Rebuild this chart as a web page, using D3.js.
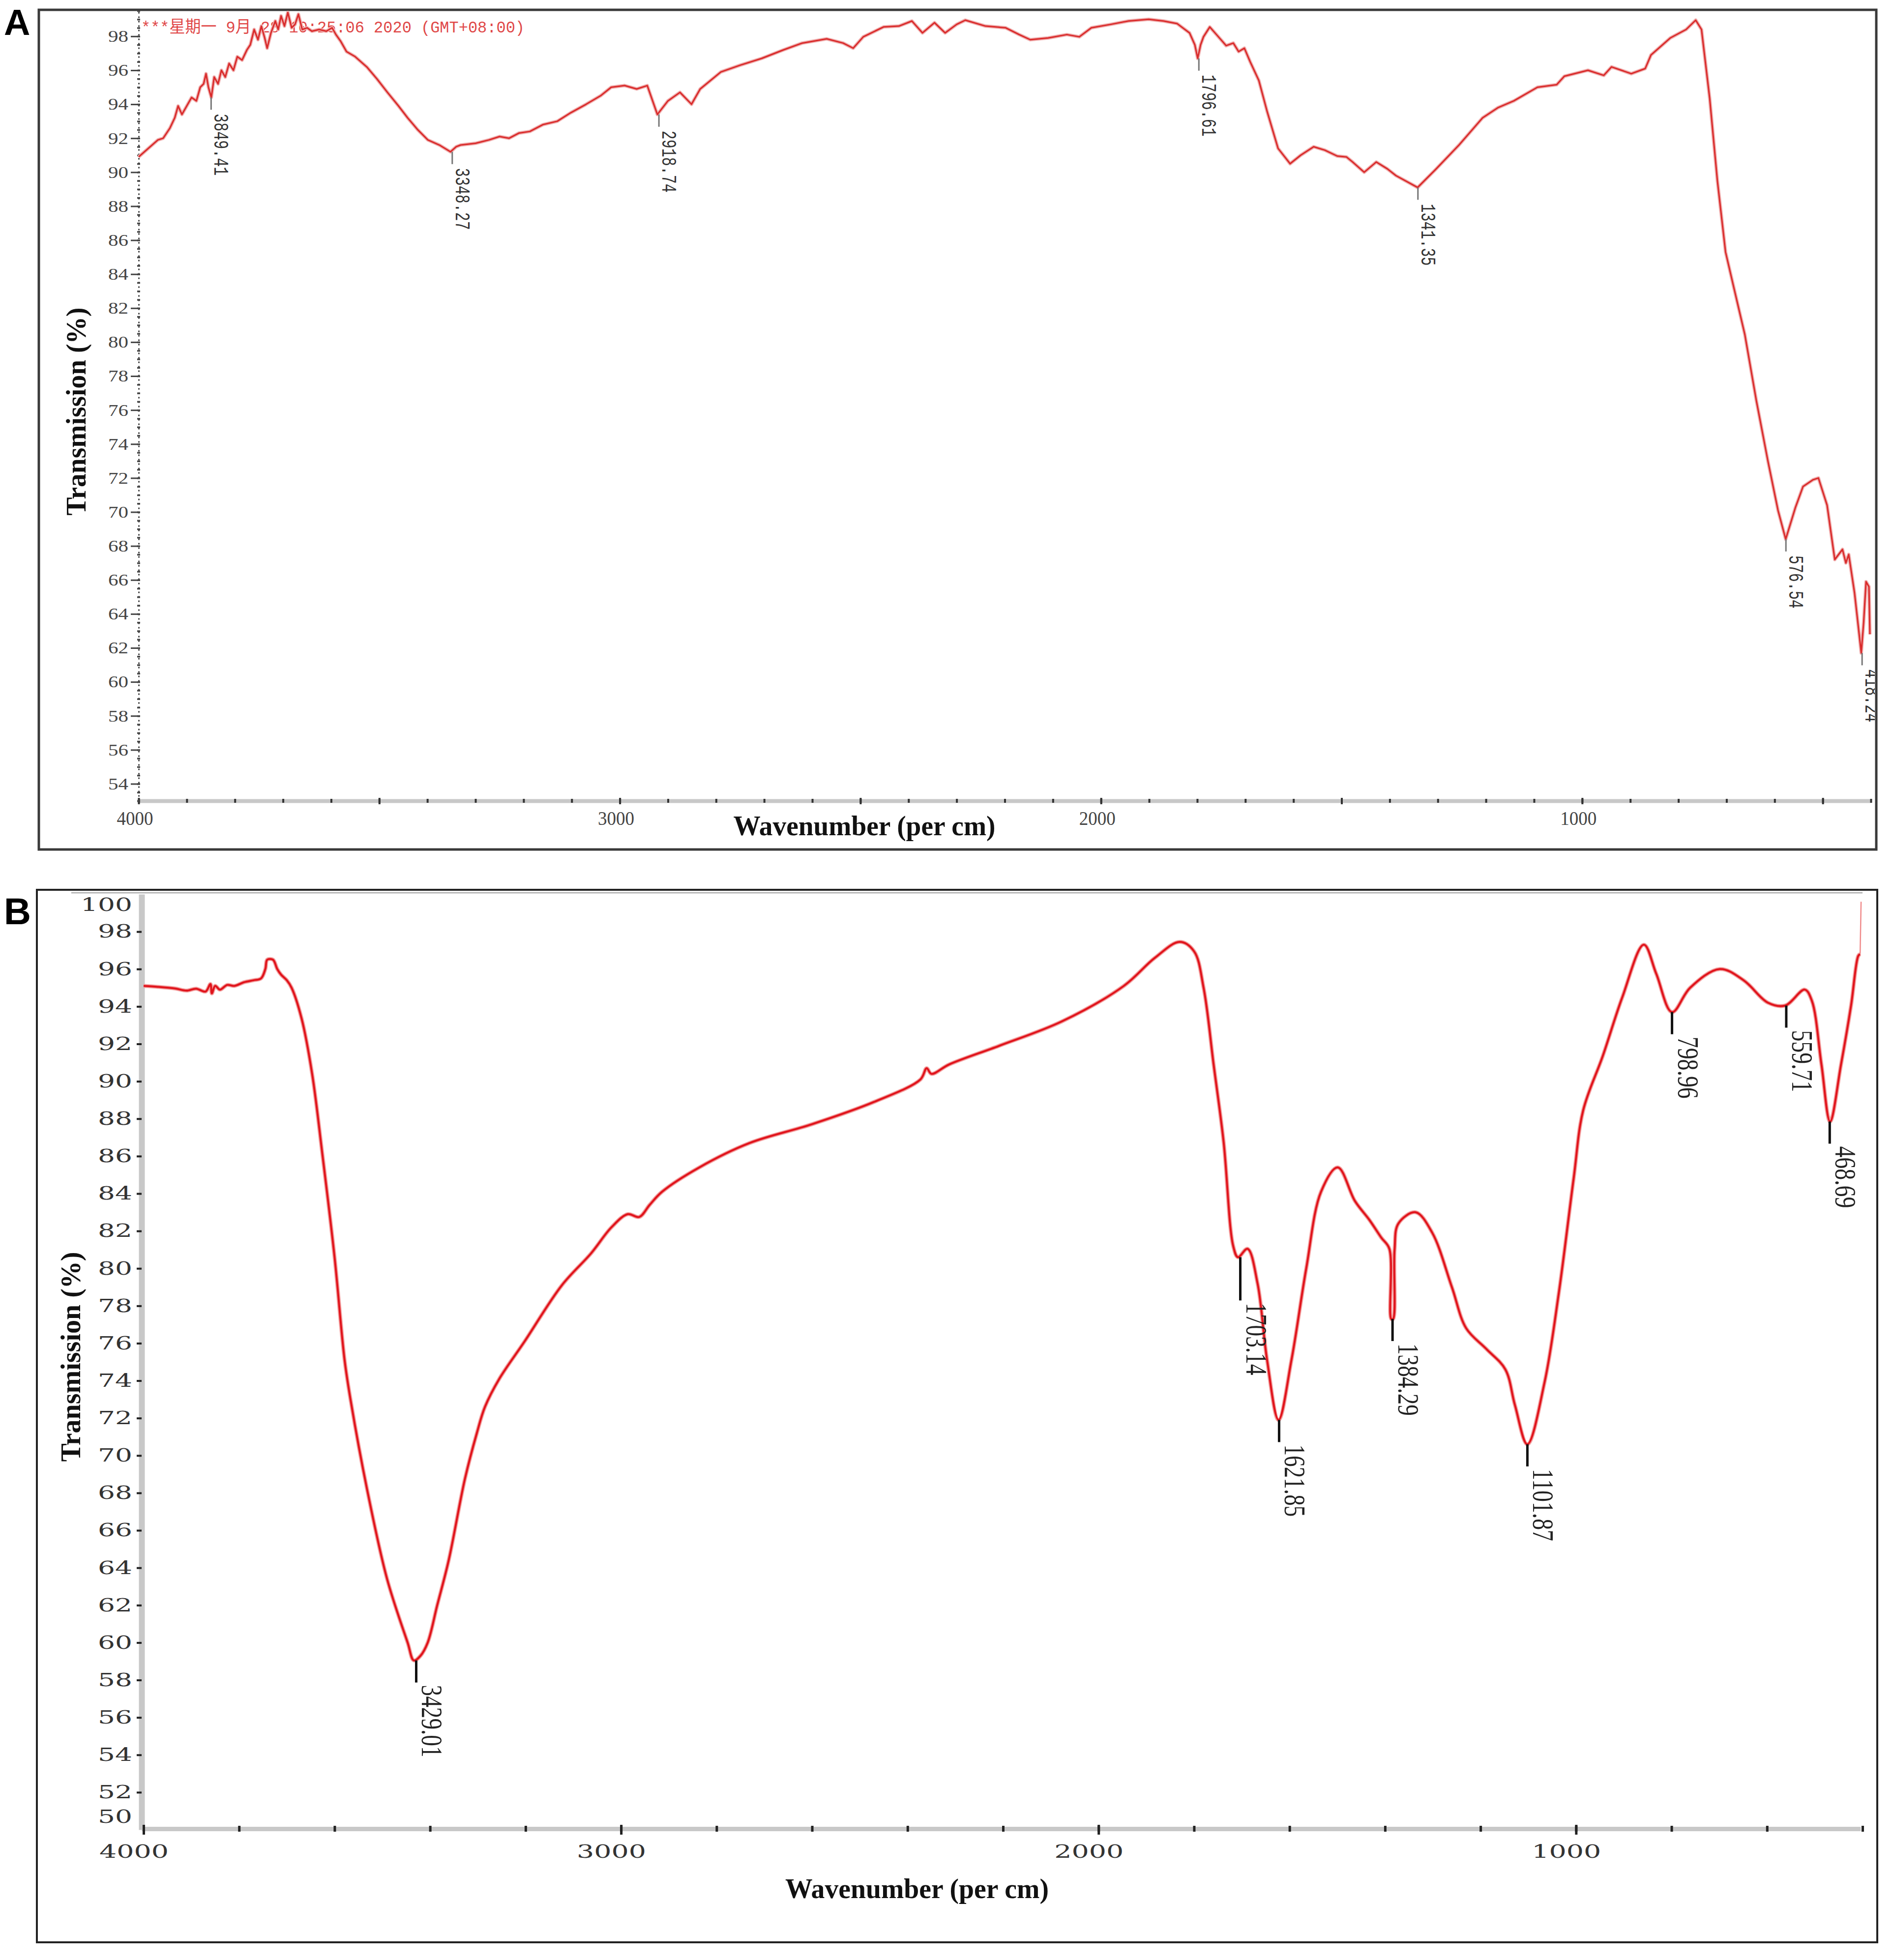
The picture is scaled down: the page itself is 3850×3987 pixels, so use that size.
<!DOCTYPE html>
<html><head><meta charset="utf-8">
<script src="https://cdn.jsdelivr.net/npm/d3@7"></script>
<style>body{margin:0;background:#fff}svg{display:block}</style>
</head><body>
<svg id="c" width="3850" height="3987"></svg>
<script>
// ---------- DATA ----------
const spectrumA = [
[4000,90.9],[3980,91.4],[3960,91.9],[3949,92.0],[3935,92.6],[3925,93.2],[3918,93.9],[3910,93.4],[3900,93.9],
[3890,94.4],[3880,94.2],[3872,95.0],[3865,95.2],[3860,95.8],[3855,95.0],[3849,94.4],[3843,95.6],[3835,95.2],
[3828,96.0],[3820,95.6],[3812,96.4],[3803,96.0],[3795,96.8],[3785,96.6],[3775,97.2],[3768,97.5],[3760,98.4],
[3752,97.8],[3745,98.6],[3738,97.9],[3733,97.3],[3725,98.2],[3716,98.9],[3710,98.4],[3704,99.2],[3697,98.6],
[3690,99.4],[3682,98.5],[3675,98.7],[3668,99.3],[3660,98.4],[3650,98.5],[3640,98.3],[3625,98.4],[3610,98.3],
[3598,98.5],[3590,98.1],[3580,97.7],[3568,97.1],[3550,96.8],[3526,96.2],[3505,95.5],[3483,94.7],[3460,93.9],
[3441,93.2],[3420,92.5],[3399,91.9],[3375,91.6],[3352,91.2],[3340,91.5],[3331,91.6],[3300,91.7],[3272,91.9],
[3250,92.1],[3230,92.0],[3210,92.3],[3187,92.4],[3160,92.8],[3130,93.0],[3102,93.5],[3070,94.0],[3040,94.5],
[3018,95.0],[2990,95.1],[2965,94.9],[2943,95.1],[2922,93.4],[2900,94.2],[2875,94.7],[2851,94.0],[2833,94.9],
[2790,95.9],[2750,96.3],[2705,96.7],[2660,97.2],[2621,97.6],[2570,97.85],[2536,97.6],[2515,97.3],[2494,97.97],
[2452,98.55],[2420,98.6],[2393,98.9],[2371,98.2],[2346,98.8],[2324,98.2],[2300,98.7],[2282,98.95],[2240,98.6],
[2198,98.5],[2170,98.1],[2147,97.8],[2110,97.9],[2071,98.1],[2045,97.97],[2020,98.5],[1980,98.7],[1943,98.9],
[1901,99.0],[1870,98.9],[1842,98.75],[1816,98.2],[1805,97.5],[1799,96.7],[1793,97.5],[1787,97.97],[1774,98.55],
[1760,98.1],[1740,97.45],[1725,97.6],[1714,97.1],[1702,97.3],[1690,96.5],[1672,95.4],[1655,93.6],[1632,91.4],
[1607,90.5],[1585,91.0],[1558,91.5],[1535,91.3],[1509,90.95],[1490,90.9],[1477,90.6],[1453,90.0],[1428,90.6],
[1405,90.2],[1387,89.8],[1342,89.1],[1305,90.15],[1256,91.6],[1207,93.2],[1175,93.8],[1142,94.2],[1093,95.0],
[1053,95.15],[1037,95.65],[988,96.0],[955,95.7],[939,96.2],[898,95.8],[869,96.1],[857,96.9],[817,97.9],
[784,98.4],[764,98.95],[752,98.4],[735,94.35],[719,89.5],[702,85.3],[686,83.35],[662,80.45],[638,76.55],
[614,73.0],[593,70.1],[577,68.4],[557,70.25],[541,71.5],[520,71.9],[509,72.0],[491,70.4],[475,67.2],
[459,67.8],[452,67.0],[446,67.5],[434,65.25],[420,61.7],[415,63.5],[410,65.9],[404,65.6],[402,62.8]
];
const spectrumB = [
[4000,95.1],[3970,95.05],[3934,94.96],[3910,94.85],[3890,94.95],[3870,94.8],[3860,95.2],[3857,94.7],[3850,95.1],
[3840,94.9],[3825,95.15],[3810,95.1],[3789,95.3],[3770,95.4],[3754,95.5],[3745,96.0],[3741,96.5],[3729,96.5],
[3720,96.0],[3712,95.7],[3700,95.4],[3690,95.0],[3669,93.35],[3647,90.4],[3626,86.2],[3600,80.6],[3579,75.1],
[3566,72.9],[3532,68.2],[3490,63.4],[3447,60.0],[3434,59.05],[3420,59.3],[3405,60.0],[3385,62.0],[3361,64.4],
[3327,68.75],[3302,71.2],[3285,72.6],[3255,74.1],[3202,76.1],[3124,79.1],[3063,80.8],[3020,82.2],[2986,82.9],
[2962,82.75],[2940,83.4],[2914,84.1],[2836,85.4],[2731,86.7],[2601,87.7],[2470,88.9],[2373,90.1],[2360,90.7],
[2350,90.4],[2313,90.9],[2208,91.9],[2077,93.2],[1947,95.1],[1882,96.6],[1830,97.45],[1800,96.95],[1780,95.0],
[1759,90.9],[1738,86.75],[1718,81.2],[1708,80.6],[1688,81.05],[1667,79.2],[1647,75.1],[1623,71.9],[1596,75.1],
[1565,80.0],[1534,84.1],[1499,85.4],[1463,83.6],[1433,82.6],[1408,81.65],[1391,81.05],[1387,77.3],[1383,77.3],
[1380,81.0],[1372,82.4],[1336,83.0],[1301,81.9],[1260,79.0],[1230,76.8],[1188,75.7],[1148,74.6],[1128,72.7],
[1102,70.6],[1066,73.9],[1036,78.7],[1005,84.8],[985,88.45],[944,91.35],[903,94.5],[858,97.3],[832,95.75],
[799,93.7],[761,95.0],[699,96.0],[649,95.4],[598,94.2],[562,94.05],[521,94.9],[506,94.3],[486,90.9],
[468,87.85],[445,90.9],[424,94.05],[409,96.7],[405,96.8]
];
const tailB = [[405,96.8],[403,99.6]];
const peaksA = [
{label:"3849.41",wn:3849.41,t:94.4},{label:"3348.27",wn:3348.27,t:91.2},{label:"2918.74",wn:2918.74,t:93.4},
{label:"1796.61",wn:1796.61,t:96.7},{label:"1341.35",wn:1341.35,t:89.1},{label:"576.54",wn:576.54,t:68.4},
{label:"418.24",wn:418.24,t:61.7}
];
const peaksB = [
{label:"3429.01",wn:3429.01,t:59.05},{label:"1703.14",wn:1703.14,t:80.6},{label:"1621.85",wn:1621.85,t:71.9},
{label:"1384.29",wn:1384.29,t:77.3},{label:"1101.87",wn:1101.87,t:70.6},{label:"798.96",wn:798.96,t:93.7},
{label:"559.71",wn:559.71,t:94.05},{label:"468.69",wn:468.69,t:87.85}
];
const yTicksA = [54,56,58,60,62,64,66,68,70,72,74,76,78,80,82,84,86,88,90,92,94,96,98];
const xLabelsA = [4000,3000,2000,1000];
const yTicksB = [50,52,54,56,58,60,62,64,66,68,70,72,74,76,78,80,82,84,86,88,90,92,94,96,98,100];
const xLabelsB = [4000,3000,2000,1000];
const stampA = "***星期一 9月 28 10:25:06 2020 (GMT+08:00)";
const yTitle = "Transmission (%)";
const xTitle = "Wavenumber (per cm)";

// ---------- DRAW ----------
const svg = d3.select("#c");
svg.append("rect").attr("width",3850).attr("height",3987).attr("fill","#fff");

// ===== Panel A =====
const xA = d3.scaleLinear().domain([4000,400]).range([282,3805]);
const yA = d3.scaleLinear().domain([53,99.5]).range([1629,22]);
const gA = svg.append("g");
svg.append("defs").append("clipPath").attr("id","clipA").append("rect")
  .attr("x",82).attr("y",22).attr("width",3731).attr("height",1703);

gA.append("text").attr("x",8).attr("y",71).text("A")
  .attr("font-family","Liberation Sans, Arial, sans-serif").attr("font-weight","bold").attr("font-size",74).attr("fill","#000");
gA.append("rect").attr("x",79).attr("y",20).attr("width",3737).attr("height",1708)
  .attr("fill","none").attr("stroke","#3a3a3a").attr("stroke-width",5);

gA.append("text").attr("x",287).attr("y",66).text(stampA)
  .attr("font-family","Liberation Mono, Noto Sans CJK SC, monospace").attr("font-size",34)
  .attr("fill","#e04848").attr("textLength",780).attr("lengthAdjust","spacingAndGlyphs");

// x axis bar
const y0A = yA.range()[0];
const xbarA = gA.append("g").attr("transform",`translate(0,${y0A})`)
  .call(d3.axisBottom(xA).tickValues([]).tickSizeOuter(0));
xbarA.select(".domain").attr("stroke","#c8c8c8").attr("stroke-width",8);
gA.append("g").attr("transform",`translate(0,${y0A-4})`)
  .call(d3.axisBottom(xA).tickValues(d3.range(4000,399,-100)).tickSize(8).tickFormat(""))
  .call(g=>{g.select(".domain").remove();g.selectAll("line").attr("stroke","#333").attr("stroke-width",4);});
gA.append("g").attr("transform",`translate(0,${y0A-6})`)
  .call(d3.axisBottom(xA).tickValues(d3.range(4000,399,-500)).tickSize(13).tickFormat(""))
  .call(g=>{g.select(".domain").remove();g.selectAll("line").attr("stroke","#333").attr("stroke-width",4);});
gA.append("g").attr("transform",`translate(0,${y0A})`)
  .call(d3.axisBottom(xA).tickValues(xLabelsA).tickSize(0).tickPadding(21).tickFormat(d3.format("d")))
  .call(g=>{g.select(".domain").remove();
    g.selectAll("text").attr("font-family","Liberation Serif, serif").attr("font-size",40).attr("fill","#444")
     .attr("dx",-8).attr("textLength",74).attr("lengthAdjust","spacingAndGlyphs");});

// y axis (dotted)
const yaxA = gA.append("g").attr("transform",`translate(${xA.range()[0]},0)`)
  .call(d3.axisLeft(yA).tickValues(yTicksA).tickSize(16).tickPadding(5).tickSizeOuter(0));
yaxA.select(".domain").attr("stroke","#444").attr("stroke-width",3).attr("stroke-dasharray","3,6");
yaxA.selectAll(".tick line").attr("stroke","#444").attr("stroke-width",3);
yaxA.selectAll("text").attr("font-family","Liberation Serif, serif").attr("font-size",34).attr("fill","#444")
  .attr("textLength",41).attr("lengthAdjust","spacingAndGlyphs");
gA.append("g").attr("transform",`translate(${xA.range()[0]+3},0)`)
  .call(d3.axisLeft(yA).tickValues(d3.range(53,99.6,0.5)).tickSize(6).tickFormat(""))
  .call(g=>{g.select(".domain").remove();g.selectAll("line").attr("stroke","#444").attr("stroke-width",3.5);});

// titles
gA.append("text").attr("transform","translate(174,837) rotate(-90)").attr("text-anchor","middle").text(yTitle)
  .attr("font-family","Liberation Serif, Times New Roman, serif").attr("font-weight","bold").attr("font-size",58)
  .attr("fill","#111").attr("textLength",423).attr("lengthAdjust","spacingAndGlyphs");
gA.append("text").attr("x",1758).attr("y",1699).attr("text-anchor","middle").text(xTitle)
  .attr("font-family","Liberation Serif, Times New Roman, serif").attr("font-weight","bold").attr("font-size",56)
  .attr("fill","#111").attr("textLength",533).attr("lengthAdjust","spacingAndGlyphs");

// curve + peaks
const plotA = gA.append("g").attr("clip-path","url(#clipA)");
const lineA = d3.line().x(d=>xA(d[0])).y(d=>yA(d[1]));
plotA.append("path").datum(spectrumA).attr("d",lineA)
  .attr("fill","none").attr("stroke","#f0b0b0").attr("stroke-width",7).attr("stroke-linejoin","round");
plotA.append("path").datum(spectrumA).attr("d",lineA)
  .attr("fill","none").attr("stroke","#d92b2b").attr("stroke-width",3).attr("stroke-linejoin","round");
const pkA = plotA.selectAll("g.pk").data(peaksA).join("g").attr("class","pk");
pkA.append("line").attr("x1",d=>xA(d.wn)).attr("x2",d=>xA(d.wn))
  .attr("y1",d=>yA(d.t)).attr("y2",d=>yA(d.t)+25).attr("stroke","#777").attr("stroke-width",3);
pkA.append("text").attr("transform",d=>`translate(${xA(d.wn)+7},${yA(d.t)+33}) rotate(90)`).text(d=>d.label)
  .attr("font-family","Liberation Mono, DejaVu Sans Mono, monospace").attr("font-size",42).attr("fill","#333")
  .attr("textLength",d=>d.label.length*18).attr("lengthAdjust","spacingAndGlyphs");

// ===== Panel B =====
const xB = d3.scaleLinear().domain([4000,400]).range([292,3788]);
const yB = d3.scaleLinear().domain([50,100]).range([3722,1819]);
const gB = svg.append("g");
gB.append("text").attr("x",8).attr("y",1880).text("B")
  .attr("font-family","Liberation Sans, Arial, sans-serif").attr("font-weight","bold").attr("font-size",76).attr("fill","#000");
gB.append("rect").attr("x",75).attr("y",1810).attr("width",3743).attr("height",2141)
  .attr("fill","none").attr("stroke","#222").attr("stroke-width",4);
gB.append("line").attr("x1",145).attr("x2",xB.range()[1]).attr("y1",1816).attr("y2",1816)
  .attr("stroke","#b8b8b8").attr("stroke-width",3);

// y axis
const yaxB = gB.append("g").attr("transform",`translate(288,0)`)
  .call(d3.axisLeft(yB).tickValues(yTicksB).tickSize(10).tickPadding(9).tickSizeOuter(0));
yaxB.select(".domain").attr("stroke","#c8c8c8").attr("stroke-width",12);
yaxB.selectAll(".tick line").attr("stroke","#222").attr("stroke-width",4)
  .attr("opacity",d=>(d===50||d===100)?0:1);
yaxB.selectAll("text").attr("font-family","DejaVu Serif, serif").attr("font-size",37).attr("fill","#333")
  .attr("textLength",d=>String(d).length*35).attr("lengthAdjust","spacingAndGlyphs")
  .attr("y",d=>d===100?22:(d===50?-26:0));

// x axis
const y0B = 3720;
const xbarB = gB.append("g").attr("transform",`translate(0,${y0B})`)
  .call(d3.axisBottom(xB).tickValues([]).tickSizeOuter(0));
xbarB.select(".domain").attr("stroke","#c8c8c8").attr("stroke-width",9)
  .attr("transform","translate(-4,0)");
gB.append("g").attr("transform",`translate(0,${y0B-6})`)
  .call(d3.axisBottom(xB).tickValues(d3.range(4000,399,-200)).tickSize(12).tickFormat(""))
  .call(g=>{g.select(".domain").remove();g.selectAll("line").attr("stroke","#222").attr("stroke-width",5);});
gB.append("g").attr("transform",`translate(0,${y0B-8})`)
  .call(d3.axisBottom(xB).tickValues(xLabelsB).tickSize(20).tickFormat(""))
  .call(g=>{g.select(".domain").remove();g.selectAll("line").attr("stroke","#222").attr("stroke-width",5);});
gB.append("g").attr("transform",`translate(0,${y0B})`)
  .call(d3.axisBottom(xB).tickValues(xLabelsB).tickSize(0).tickPadding(32).tickFormat(d3.format("d")))
  .call(g=>{g.select(".domain").remove();
    g.selectAll("text").attr("font-family","DejaVu Serif, serif").attr("font-size",38).attr("fill","#333")
     .attr("dx",-20).attr("textLength",141).attr("lengthAdjust","spacingAndGlyphs");});

// titles
gB.append("text").attr("transform","translate(163,2760) rotate(-90)").attr("text-anchor","middle").text(yTitle)
  .attr("font-family","Liberation Serif, Times New Roman, serif").attr("font-weight","bold").attr("font-size",58)
  .attr("fill","#111").attr("textLength",427).attr("lengthAdjust","spacingAndGlyphs");
gB.append("text").attr("x",1865).attr("y",3861).attr("text-anchor","middle").text(xTitle)
  .attr("font-family","Liberation Serif, Times New Roman, serif").attr("font-weight","bold").attr("font-size",56)
  .attr("fill","#111").attr("textLength",536).attr("lengthAdjust","spacingAndGlyphs");

// curve + peaks
const lineB = d3.line().x(d=>xB(d[0])).y(d=>yB(d[1])).curve(d3.curveCatmullRom.alpha(0.5));
gB.append("path").datum(spectrumB).attr("d",lineB)
  .attr("fill","none").attr("stroke","#f3a0a0").attr("stroke-width",8).attr("stroke-linejoin","round");
gB.append("path").datum(spectrumB).attr("d",lineB)
  .attr("fill","none").attr("stroke","#e0141c").attr("stroke-width",4).attr("stroke-linejoin","round");
gB.append("path").datum(tailB).attr("d",d3.line().x(d=>xB(d[0])).y(d=>yB(d[1])))
  .attr("fill","none").attr("stroke","#f08a8a").attr("stroke-width",2.5);
const tickLenB = d => d.label==="1703.14" ? 88 : 45;
const pkB = gB.selectAll("g.pkb").data(peaksB).join("g").attr("class","pkb");
pkB.append("line").attr("x1",d=>xB(d.wn)).attr("x2",d=>xB(d.wn))
  .attr("y1",d=>yB(d.t)).attr("y2",d=>yB(d.t)+tickLenB(d)).attr("stroke","#111").attr("stroke-width",5);
pkB.append("text").attr("transform",d=>`translate(${xB(d.wn)+12},${yB(d.t)+tickLenB(d)+5}) rotate(90)`).text(d=>d.label)
  .attr("font-family","Liberation Serif, Times New Roman, serif").attr("font-size",62).attr("fill","#222")
  .attr("textLength",d=>d.label.length*21).attr("lengthAdjust","spacingAndGlyphs");
</script>
</body></html>
